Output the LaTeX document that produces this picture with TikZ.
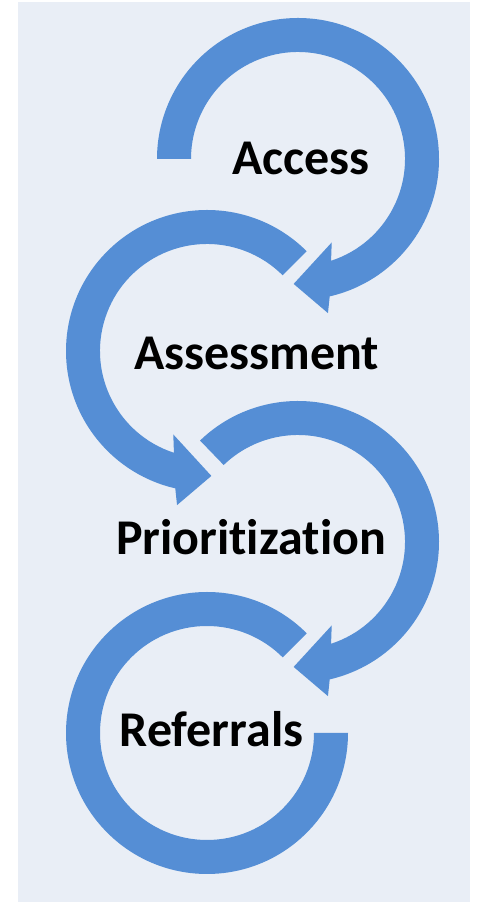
\documentclass[tikz,border=0pt]{standalone}
\usepackage{fontspec}
\setmainfont{Carlito}[Ligatures=NoCommon]
\usetikzlibrary{calc}
\definecolor{bandblue}{RGB}{85,142,213}
\definecolor{panelbg}{RGB}{233,238,246}
\tikzset{
  band/.style={fill=bandblue, draw=none},
  steplabel/.style={anchor=base, inner sep=0pt, font=\fontsize{50}{60}\selectfont\bfseries, text=black}
}
\begin{document}
\begin{tikzpicture}[x=1pt,y=1pt]
\useasboundingbox (0,0) rectangle (480,902);
\fill[white] (0,0) rectangle (480,902);
\fill[panelbg] (18,0) rectangle (470,900);
\coordinate (C1) at (298,743);
\coordinate (C2) at (207,551);
\coordinate (C3) at (298,360);
\coordinate (C4) at (207,169);
% arc 1 (clockwise)
\fill[band] ($(C1)+(180:141)$) arc[start angle=180, end angle=-77, radius=141]
  -- ($(C1)+(-79:157)$) -- ($(C1)+(-92:125)$) -- ($(C1)+(-68:90)$)
  -- ($(C1)+(-72:107)$) arc[start angle=-72, end angle=180, radius=107] -- cycle;
% arc 2 (counter-clockwise)
\fill[band] ($(C2)+(45:141)$) arc[start angle=45, end angle=257, radius=141]
  -- ($(C2)+(259:157)$) -- ($(C2)+(272:125)$) -- ($(C2)+(248:90)$)
  -- ($(C2)+(252:107)$) arc[start angle=252, end angle=45, radius=107] -- cycle;
% arc 3 (clockwise)
\fill[band] ($(C3)+(134:141)$) arc[start angle=134, end angle=-77, radius=141]
  -- ($(C3)+(-79:157)$) -- ($(C3)+(-92:125)$) -- ($(C3)+(-68:90)$)
  -- ($(C3)+(-72:107)$) arc[start angle=-72, end angle=134, radius=107] -- cycle;
% arc 4 (counter-clockwise)
\fill[band] ($(C4)+(45:141)$) arc[start angle=45, end angle=360, radius=141]
  -- ($(C4)+(0:107)$) arc[start angle=360, end angle=45, radius=107] -- cycle;
\node[steplabel] (access) at (301,727) {Access};
\node[steplabel] (assessment) at (256.5,532) {Assessment};
\node[steplabel] (prioritization) at (251,347) {Prioritization};
\node[steplabel] (referrals) at (211.5,155) {Referrals};
\end{tikzpicture}
\end{document}
